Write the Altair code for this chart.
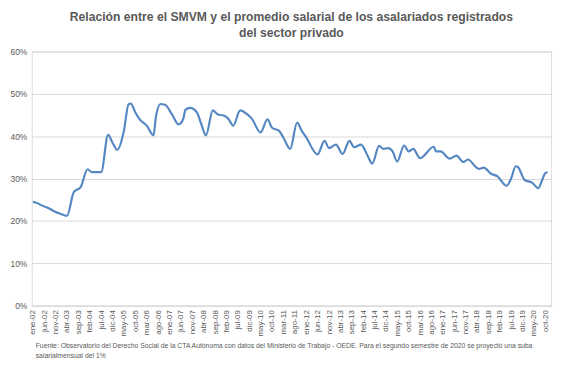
import altair as alt
import pandas as pd

# month offset from ene-2002, ratio (%)
month_offset = [0, 2, 3, 7, 10, 12, 15, 18, 21, 24, 26, 30, 33, 35, 37, 40, 42, 43, 45, 47,
                50, 53, 54, 56, 58, 61, 64, 66, 67, 69, 72, 74, 76, 79, 81, 84, 86, 88, 91, 94,
                96, 100, 103, 105, 108, 110, 113, 116, 118, 120, 125, 128, 130, 133, 136, 139, 141, 144, 147, 149,
                152, 154, 156, 158, 160, 163, 165, 167, 170, 176, 177, 179, 183, 186, 189, 191, 195, 196, 198, 201,
                204, 208, 210, 212, 213, 216, 219, 222, 223, 225, 226]
ratio = [24.5, 24.2, 23.9, 23.0, 22.1, 21.7, 21.2, 26.8, 28.0, 32.2, 31.5, 31.5, 40.3, 38.4, 36.8, 41.3, 47.5, 47.7, 45.6, 43.9,
         42.5, 40.2, 44.4, 47.6, 47.4, 45.2, 42.8, 44.0, 46.2, 46.7, 45.6, 42.8, 40.2, 46.1, 45.2, 44.8, 44.0, 42.5, 46.1, 45.2,
         44.2, 40.9, 44.0, 42.0, 41.3, 39.7, 37.0, 43.2, 41.3, 39.7, 35.7, 38.9, 37.2, 38.0, 35.8, 38.9, 37.4, 38.0, 35.4, 33.5,
         37.7, 37.0, 37.2, 36.4, 34.0, 37.8, 36.4, 37.0, 34.8, 37.5, 36.4, 36.4, 34.7, 35.4, 33.9, 34.5, 32.5, 32.3, 32.6, 31.2,
         30.5, 28.3, 30.0, 32.9, 32.7, 29.6, 29.1, 27.7, 28.8, 31.3, 31.5]

title_lines = ["Relación entre el SMVM y el promedio salarial de los asalariados registrados",
               "del sector privado"]
note_lines = ["Fuente:  Observatorio del Derecho Social de la CTA Autónoma con datos del Ministerio de Trabajo - OEDE.  Para el segundo semestre de 2020 se proyectó  una suba",
              "salarialmensual del 1%"]
y_ticks = [0, 0.1, 0.2, 0.3, 0.4, 0.5, 0.6]

dates = [f"{2002 + m // 12}-{m % 12 + 1:02d}-01" for m in month_offset]
df = pd.DataFrame({"fecha": dates, "valor": [v / 100 for v in ratio]})

tick_dates = [alt.DateTime(year=2002 + m // 12, month=m % 12 + 1, date=1, utc=True) for m in range(0, 226, 5)]

W, H = 525, 257
GRAY = "#595959"
FONT = "Liberation Sans"

month_expr = ("['ene','feb','mar','abr','may','jun','jul','ago','sep','oct','nov','dic'][utcmonth(datum.value)]"
              " + '-' + utcFormat(datum.value, '%y')")

line = alt.Chart(df).mark_line(color="#5588c2", strokeWidth=2.2, interpolate="monotone").encode(
    x=alt.X("fecha:T",
            scale=alt.Scale(type="utc",
                            domain=[alt.DateTime(year=2001, month=12, date=16, utc=True),
                                    alt.DateTime(year=2020, month=12, date=16, utc=True)]),
            axis=alt.Axis(values=tick_dates, labelExpr=month_expr, labelAngle=-90, title=None,
                          grid=False, ticks=False, domain=True, domainColor="#d9d9d9",
                          labelFontSize=8, labelColor=GRAY, labelFont=FONT, labelPadding=4,
                          labelOverlap=False, labelBound=False, labelFlush=False)),
    y=alt.Y("valor:Q",
            scale=alt.Scale(domain=[0, 0.6], nice=False),
            axis=alt.Axis(values=y_ticks, format=".0%", title=None, grid=True, gridColor="#d9d9d9",
                          ticks=False, domain=False, labelFontSize=8.5, labelColor=GRAY, labelFont=FONT,
                          labelPadding=5)),
)

note1 = alt.Chart(pd.DataFrame({"t": [note_lines[0]]})).mark_text(
    align="left", baseline="middle", fontSize=6.9, font=FONT, color=GRAY
).encode(x=alt.value(4), y=alt.value(H + 41), text="t:N")
note2 = alt.Chart(pd.DataFrame({"t": [note_lines[1]]})).mark_text(
    align="left", baseline="middle", fontSize=6.9, font=FONT, color=GRAY
).encode(x=alt.value(4), y=alt.value(H + 51), text="t:N")

chart = alt.layer(line, note1, note2).properties(
    width=W, height=H,
    title=alt.TitleParams(title_lines, fontSize=12.3, font=FONT, fontWeight="bold", color=GRAY,
                          anchor="middle", offset=8, lineHeight=16),
    autosize=alt.AutoSizeParams(type="none"),
    padding={"left": 24, "top": 42, "right": 5, "bottom": 52},
).configure_view(stroke=None).configure(background="white")

chart.save("out.html", embed_options={"renderer": "svg", "actions": False})
